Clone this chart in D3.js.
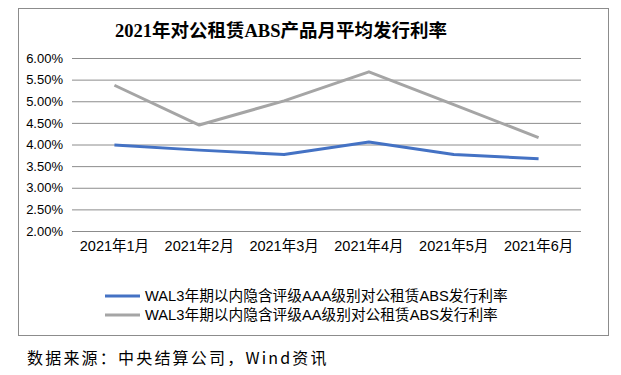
<!DOCTYPE html>
<html>
<head>
<meta charset="utf-8">
<script src="https://cdn.jsdelivr.net/npm/d3@7"></script>
<style>
  body { margin: 0; background: #fff; }
  svg { display: block; }
</style>
</head>
<body>
<svg id="chart"></svg>
<script>
var months = ["2021年1月", "2021年2月", "2021年3月", "2021年4月", "2021年5月", "2021年6月"];
var aaaRates = [3.99, 3.87, 3.77, 4.06, 3.77, 3.67];
var aaRates = [5.37, 4.45, 5.01, 5.68, 4.92, 4.16];
var seriesNames = ["WAL3年期以内隐含评级AAA级别对公租赁ABS发行利率",
                   "WAL3年期以内隐含评级AA级别对公租赁ABS发行利率"];
var yTicks = [2.0, 2.5, 3.0, 3.5, 4.0, 4.5, 5.0, 5.5, 6.0];

var W = 621, H = 375;
var margin = {top: 58, left: 72, right: 40, bottom: 144};
var width = W - margin.left - margin.right,
    height = H - margin.top - margin.bottom;

var svg = d3.select("#chart").attr("width", W).attr("height", H);

// outer frame
svg.append("rect")
    .attr("x", 18.5).attr("y", 8.5)
    .attr("width", 590).attr("height", 327)
    .attr("fill", "none").attr("stroke", "#8c8c8c").attr("stroke-width", 1);

svg.append("text")
    .attr("x", 281).attr("y", 37)
    .attr("text-anchor", "middle")
    .style("font-family", "'Liberation Serif', 'Noto Sans CJK SC'")
    .style("font-weight", "bold")
    .style("font-size", "18.5px")
    .text("2021年对公租赁ABS产品月平均发行利率");

var g = svg.append("g")
    .attr("transform", "translate(" + margin.left + "," + margin.top + ")");

var x = d3.scaleBand().domain(months).range([0, width]);
var y = d3.scaleLinear().domain([2, 6]).range([height, 0]);

var yAxis = g.append("g")
    .call(d3.axisLeft(y).tickValues(yTicks).tickSize(-width)
        .tickFormat(function(d) { return d.toFixed(2) + "%"; }));
yAxis.select(".domain").remove();
yAxis.selectAll("line").attr("stroke", "#8c8c8c");
yAxis.selectAll("text")
    .attr("x", -9)
    .style("font-family", "'Liberation Sans', Arial, sans-serif")
    .style("font-size", "13px").attr("fill", "#000");

var xAxis = g.append("g")
    .attr("transform", "translate(0," + height + ")")
    .call(d3.axisBottom(x).tickSize(0).tickPadding(10));
xAxis.select(".domain").remove();
xAxis.selectAll("text")
    .style("font-family", "'Liberation Sans', 'Noto Sans CJK SC', sans-serif")
    .style("font-size", "14.5px").attr("fill", "#000");

var colors = ["#4472C4", "#A5A5A5"];
var allSeries = [aaaRates, aaRates];

var line = d3.line()
    .x(function(d, i) { return x(months[i]) + x.bandwidth() / 2; })
    .y(function(d) { return y(d); });

// gray drawn first so blue sits on top
[1, 0].forEach(function(k) {
  g.append("path")
      .datum(allSeries[k])
      .attr("d", line)
      .attr("fill", "none")
      .attr("stroke", colors[k])
      .attr("stroke-width", 3)
      .attr("stroke-linejoin", "round");
});

var legend = svg.append("g");
seriesNames.forEach(function(name, i) {
  var ly = 296 + i * 19;
  legend.append("line")
      .attr("x1", 105).attr("x2", 140)
      .attr("y1", ly).attr("y2", ly)
      .attr("stroke", colors[i]).attr("stroke-width", 3);
  legend.append("text")
      .attr("x", 145).attr("y", ly + 5)
      .style("font-family", "'Liberation Sans', 'Noto Sans CJK SC', sans-serif")
      .style("font-size", "14.7px")
      .text(name);
});

svg.append("text")
    .attr("x", 27).attr("y", 364)
    .style("font-family", "'Noto Sans CJK SC', 'DejaVu Sans Mono'")
    .style("font-size", "16px")
    .style("letter-spacing", "2.2px")
    .text("数据来源：中央结算公司，Wind资讯");
</script>
</body>
</html>
